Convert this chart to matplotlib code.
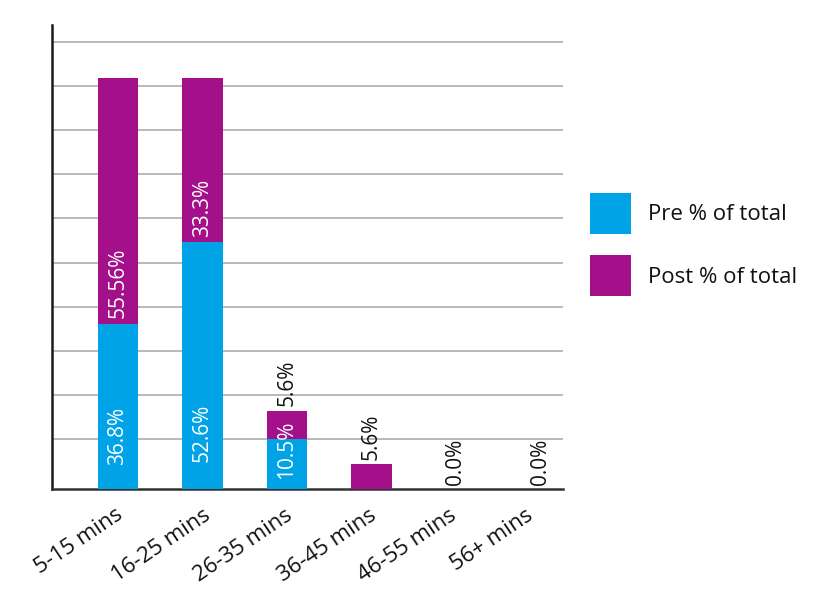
import matplotlib
matplotlib.use("Agg")
import matplotlib.pyplot as plt
from matplotlib.patches import Patch
from matplotlib.transforms import ScaledTranslation

plt.rcParams['font.family'] = ['Open Sans', 'DejaVu Sans']

# ---- data ----
categories = ['5-15 mins', '16-25 mins', '26-35 mins', '36-45 mins', '46-55 mins', '56+ mins']
# bar segment heights as drawn (read against the gridlines)
pre_heights = [37.5, 55.9, 11.4, 0.0, 0.0, 0.0]
post_heights = [55.5, 37.1, 6.4, 5.8, 0.0, 0.0]
pre_labels = ['36.8%', '52.6%', '10.5%', None, None, None]
post_labels = ['55.56%', '33.3%', '5.6%', '5.6%', '0.0%', '0.0%']
series_names = ['Pre % of total', 'Post % of total']
grid_levels = [11.3, 21.3, 31.3, 41.3, 51.3, 61.3, 71.3, 81.3, 91.3, 101.3]

BLUE = '#00a3e6'
PURPLE = '#a4108a'

W, H = 833, 594
fig = plt.figure(figsize=(W / 100, H / 100), dpi=100)
ax = fig.add_axes([52 / W, (H - 489.3) / H, (563 - 52) / W, (489.3 - 25.3) / H])

x = list(range(len(categories)))
bw = 0.48
ax.bar(x, pre_heights, bw, color=BLUE, zorder=3)
ax.bar(x, post_heights, bw, bottom=pre_heights, color=PURPLE, zorder=3)

ax.set_xlim(-0.78, 5.27)
ax.set_ylim(0, 105)
ax.set_yticks(grid_levels)
ax.set_yticklabels([])
ax.tick_params(axis='y', length=0)
ax.grid(axis='y', color='#b3b3b3', linewidth=1.3, zorder=0)
ax.set_axisbelow(True)
for s in ['top', 'right']:
    ax.spines[s].set_visible(False)
ax.spines['left'].set_linewidth(1.8)
ax.spines['left'].set_color('#1a1a1a')
ax.spines['bottom'].set_linewidth(1.8)
ax.spines['bottom'].set_color('#333333')

# x tick labels
ax.set_xticks(x)
ax.set_xticklabels(categories, rotation=34, ha='right', va='top',
                   rotation_mode='anchor', fontsize=16, color='#111111')
ax.tick_params(axis='x', length=0, pad=11)
label_shift_px = [-3, 0, -2, -3, -7, -15]
for lab, dx in zip(ax.get_xticklabels(), label_shift_px):
    lab.set_transform(lab.get_transform() + ScaledTranslation(dx / 100, 0, fig.dpi_scale_trans))

# data labels
pre_pad_px = [24, 27, 10]
for i, lab in enumerate(pre_labels):
    if lab is None:
        continue
    ax.annotate(lab, (x[i], 0), xytext=(0, pre_pad_px[i] * 0.72), textcoords='offset points',
                rotation=90, ha='center', va='bottom', color='white', fontsize=15, zorder=5)
for i, lab in enumerate(post_labels):
    if post_heights[i] > 20:
        ax.annotate(lab, (x[i], pre_heights[i]), xytext=(0, 4), textcoords='offset points',
                    rotation=90, ha='center', va='bottom', color='white', fontsize=15, zorder=5)
    else:
        top = pre_heights[i] + post_heights[i]
        ax.annotate(lab, (x[i], top), xytext=(0, 3), textcoords='offset points',
                    rotation=90, ha='center', va='bottom', color='#111111', fontsize=15, zorder=5)

handles = [Patch(facecolor=BLUE), Patch(facecolor=PURPLE)]
fig.legend(handles, series_names, loc='upper left', bbox_to_anchor=(590 / W, 1 - 193 / H),
           frameon=False, fontsize=16, handlelength=1.85, handleheight=2.47,
           handletextpad=0.77, labelspacing=0.95, borderpad=0, borderaxespad=0,
           labelcolor='#111111')

fig.savefig('out.png', dpi=100)
